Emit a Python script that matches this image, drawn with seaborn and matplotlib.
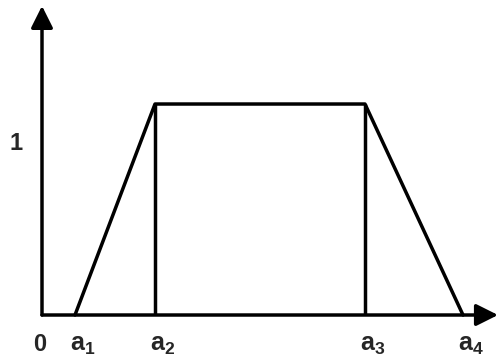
import numpy as np
import pandas as pd
import matplotlib
matplotlib.use('Agg')
import matplotlib.pyplot as plt
import seaborn as sns

# trapezoidal membership function a1..a4 (x in units of 10 px from origin)
a_names = ['a1', 'a2', 'a3', 'a4']
a_vals = [3.3, 11.3, 32.3, 42.1]
mu = [0, 1, 1, 0]
x_end = 45.6
y_end = 1.465

sns.set_style('white')
plt.rcParams['font.family'] = ['Liberation Sans', 'DejaVu Sans']
plt.rcParams['mathtext.fontset'] = 'custom'
plt.rcParams['mathtext.rm'] = 'Liberation Sans'
plt.rcParams['mathtext.bf'] = 'Liberation Sans:bold'

fig = plt.figure(figsize=(4.98, 3.59), dpi=100)
ax = fig.add_axes([0, 0, 1, 1])
ax.set_xlim(-4.2, 45.6)
ax.set_ylim(-0.2085, 1.493)
ax.axis('off')

df = pd.DataFrame({'x': a_vals, 'mu': mu})
lw = 2.5
sns.lineplot(data=df, x='x', y='mu', sort=False, color='black', linewidth=lw, ax=ax)
# verticals under the plateau
ax.vlines([a_vals[1], a_vals[2]], 0, 1, color='black', linewidth=lw)

# axes with arrows
arrow = dict(arrowstyle='-|>,head_length=0.7,head_width=0.35', color='black', lw=lw,
             mutation_scale=19, shrinkA=0, shrinkB=0)
ax.annotate('', xy=(x_end, 0), xytext=(0, 0), arrowprops=arrow)
ax.annotate('', xy=(0, y_end), xytext=(0, 0), arrowprops=arrow)

fs = 17
ax.text(-0.2, -0.14, '0', fontsize=fs, fontweight='bold', ha='center', va='center')
ax.text(-2.6, 0.815, '1', fontsize=fs, fontweight='bold', ha='center', va='center')
for name, v in zip(a_names, a_vals):
    ax.text(v + 0.8, -0.14, r'$\mathbf{a_%s}$' % name[1], fontsize=fs + 1,
            ha='center', va='center')

fig.savefig('out.png', dpi=100)
